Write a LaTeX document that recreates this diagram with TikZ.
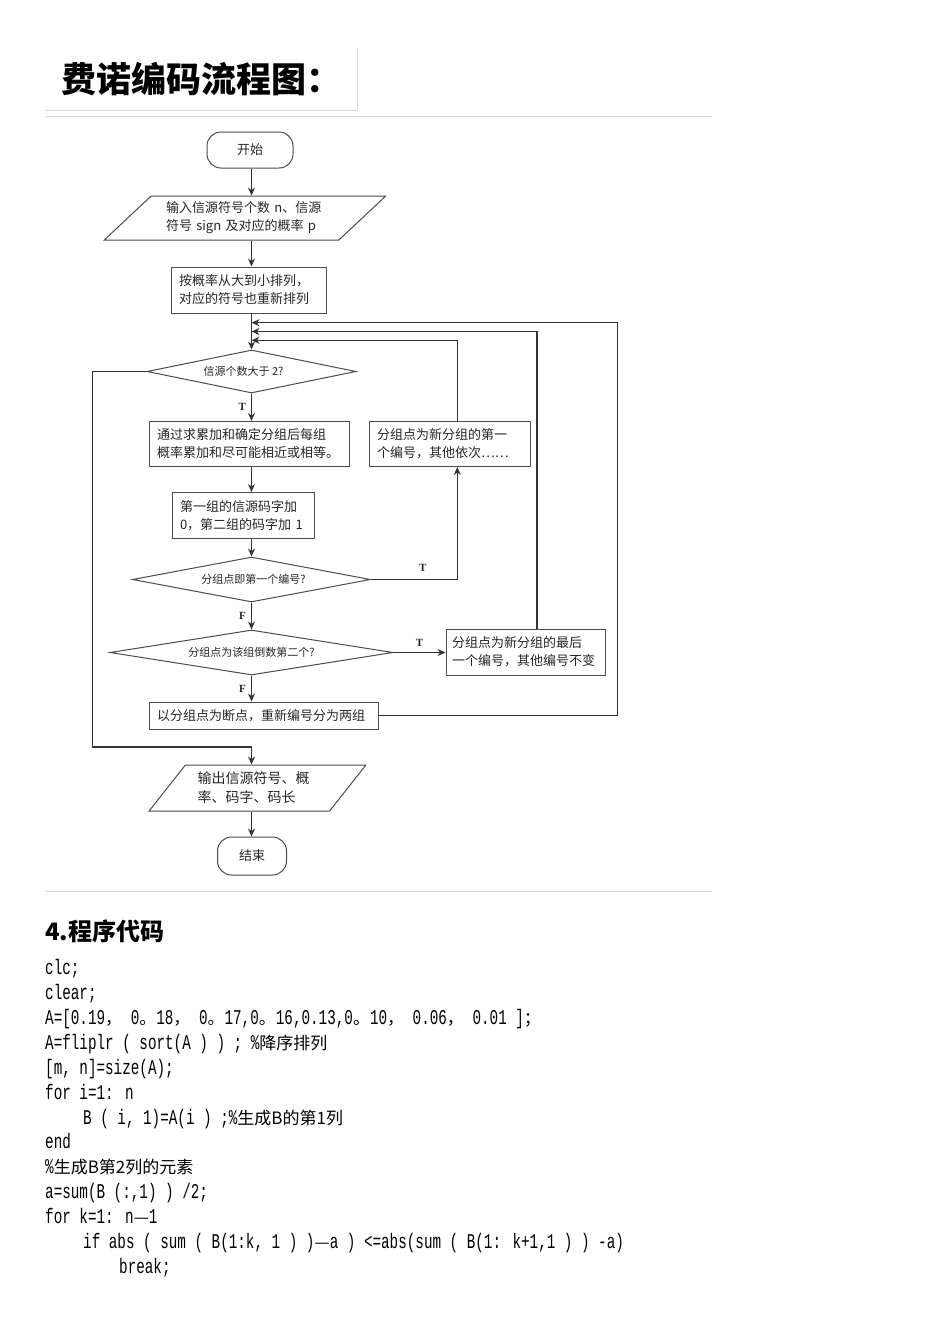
\documentclass[tikz,border=0pt]{standalone}
\usepackage{fontspec}
\setmainfont{Liberation Serif}
\newfontfamily\cjk{Noto Sans CJK SC}
\newfontfamily\codefont[FakeStretch=0.68]{Liberation Mono}
\newcommand\zh[1]{{\cjk\fontsize{17}{17}\selectfont #1}}
\usetikzlibrary{arrows.meta,positioning,shapes.geometric,calc}

\begin{document}
\begin{tikzpicture}[
	x=1pt, y=-1pt,
	>=Stealth,
	line/.style={draw=black!80, line width=1.1pt},
	arr/.style={line, -{Stealth[length=8pt,width=7pt]}},
	box/.style={
		rectangle, draw=black!70, line width=1pt,
		align=left, inner xsep=8pt, inner ysep=3pt,
		font=\cjk\fontsize{13}{18}\selectfont, text=black!85
	},
	term/.style={
		rectangle, rounded corners=14pt,
		draw=black!70, line width=1pt,
		font=\cjk\fontsize{13}{16}\selectfont, text=black!85
	},
	io/.style={
		trapezium, trapezium stretches=true,
		draw=black!70, line width=1pt,
		inner sep=0pt, align=left, text=black!85
	},
	dia/.style={diamond, draw=black!70, line width=1pt, inner sep=0pt},
	dtext/.style={font=\cjk\fontsize{11}{11}\selectfont, text=black!85, inner sep=0pt},
	tf/.style={font=\bfseries\fontsize{11}{11}\selectfont, text=black!85, inner sep=1pt},
	rule/.style={draw=black!15, line width=1pt},
	codeline/.style={anchor=base west, inner sep=0pt, font=\codefont\fontsize{21}{21}\selectfont}
]
\useasboundingbox[fill=white] (0,0) rectangle (950,1344);

% Heading picture
\node[minimum width=312pt, minimum height=62pt,
	font=\cjk\bfseries\fontsize{35}{35}\selectfont] (title) at (201,79) {费诺编码流程图：};
\draw[rule] (title.north east) -- (title.south east) -- (title.south west);
\draw[rule] (45,116) -- (712,116);

% Spine x=251.5 and entry points of the loops
\coordinate (spine) at (251.5,0);
\coordinate (inA) at (251.5,340.3);
\coordinate (inB) at (251.5,331.5);
\coordinate (inC) at (251.5,322.7);
\coordinate (busA) at (457.3,0);
\coordinate (busB) at (537,0);
\coordinate (busC) at (617.5,0);
\coordinate (lft) at (92.5,747);

\node[term, minimum width=86pt, minimum height=36pt] (start) at (250,150) {开始};
\node[io, minimum width=282pt, minimum height=44pt,
	trapezium left angle=39.2, trapezium right angle=140.8,
	text width=158pt, font=\cjk\fontsize{13}{18}\selectfont] (inp) at (245,218)
	{输入信源符号个数 n、信源\\符号 sign 及对应的概率 p};
\node[box, text width=139pt, minimum height=46pt] (sort) at (248.5,290)
	{按概率从大到小排列，\\对应的符号也重新排列};

\node[dia, minimum width=209pt, minimum height=43pt,
	label={[dtext, xshift=-8pt]center:信源个数大于 2?}] (d1) at (251.5,371.5) {};

\node[box, text width=184pt, minimum height=45pt] (box2) at (249,444)
	{通过求累加和确定分组后每组\\概率累加和尽可能相近或相等。};
\node[box, text width=145pt, minimum height=45pt] (box4) at (449.5,444)
	{分组点为新分组的第一\\个编号，其他依次……};
\node[box, text width=126pt, minimum height=46pt] (box3) at (243,515.5)
	{第一组的信源码字加\\0，第二组的码字加 1};

\node[dia, minimum width=238pt, minimum height=45pt,
	label={[dtext, xshift=2pt]center:分组点即第一个编号?}] (d2) at (251.5,579.5) {};
\node[dia, minimum width=283pt, minimum height=45pt,
	label={[dtext]center:分组点为该组倒数第二个?}] (d3) at (251.5,652.5) {};

\node[box, text width=147pt, inner xsep=6pt, minimum height=46pt] (box5) at (525.5,652)
	{分组点为新分组的最后\\一个编号，其他编号不变};
\node[box, text width=213pt, minimum height=27pt] (box6) at (263.5,715.5)
	{以分组点为断点，重新编号分为两组};

\node[io, minimum width=217pt, minimum height=46pt,
	trapezium left angle=46.6, trapezium right angle=133.4,
	text width=120pt, font=\cjk\fontsize{14}{19}\selectfont] (out) at (257.5,788)
	{输出信源符号、概\\率、码字、码长};
\node[term, minimum width=69pt, minimum height=38pt] (end) at (252,856) {结束};

% Main line
\draw[arr] (spine |- start.south) -- (spine |- inp.north);
\draw[arr] (spine |- inp.south) -- (spine |- sort.north);
\draw[arr] (spine |- sort.south) -- (d1.north);
\draw[arr] (d1.south) -- (spine |- box2.north) node[tf, midway, left=4pt] (t1) {T};
\draw[arr] (spine |- box2.south) -- (spine |- box3.north);
\draw[arr] (spine |- box3.south) -- (d2.north);
\draw[arr] (d2.south) -- (d3.north) node[tf, midway, left=4pt] (f1) {F};
\draw[arr] (d3.south) -- (spine |- box6.north) node[tf, midway, left=4pt] (f2) {F};
\draw[arr] (spine |- out.south) -- (end.north -| spine);

% Exit when two or fewer
\draw[arr] (d1.west) -| (lft) -| (spine |- out.north);

% Loops back to the test
\draw[arr] (d2.east) -| (busA |- box4.south) node[tf, pos=0.3, above=6pt] (t2) {T};
\draw[arr] (busA |- box4.north) |- (inA);
\draw[arr] (d3.east) -- (d3.east -| box5.west) node[tf, midway, above=4pt] (t3) {T};
\draw[arr] (busB |- box5.north) |- (inB);
\draw[arr] (box6.east) -| (busC |- inC) -- (inC);

\draw[rule] (45,891) -- (712,891);

% Code part
\node[font=\cjk\bfseries\fontsize{24}{24}\selectfont, anchor=west, inner sep=0pt] (head) at (45,931) {4.程序代码};

\node[codeline] (c1)  at (45,974)  {clc;};
\node[codeline] (c2)  at (45,999)  {clear;};
\node[codeline] (c3)  at (45,1024) {A=[0.19\zh{，} 0\zh{。}18\zh{，} 0\zh{。}17,0\zh{。}16,0.13,0\zh{。}10\zh{，} 0.06\zh{，} 0.01 ]\zh{；}};
\node[codeline] (c4)  at (45,1049) {A=fliplr ( sort(A ) ) ; \%\zh{降序排列}};
\node[codeline] (c5)  at (45,1074) {[m, n]=size(A);};
\node[codeline] (c6)  at (45,1099) {for i=1: n};
\node[codeline] (c7)  at (83,1124) {B ( i, 1)=A(i ) ;\%\zh{生成B的第1列}};
\node[codeline] (c8)  at (45,1148) {end};
\node[codeline] (c9)  at (45,1173) {\%\zh{生成B第2列的元素}};
\node[codeline] (c10) at (45,1198) {a=sum(B (:,1) ) /2;};
\node[codeline] (c11) at (45,1223) {for k=1: n\zh{—}1};
\node[codeline] (c12) at (83,1248) {if abs ( sum ( B(1:k, 1 ) )\zh{—}a ) <=abs(sum ( B(1: k+1,1 ) ) -a)};
\node[codeline] (c13) at (119,1273) {break;};

\end{tikzpicture}
\end{document}
